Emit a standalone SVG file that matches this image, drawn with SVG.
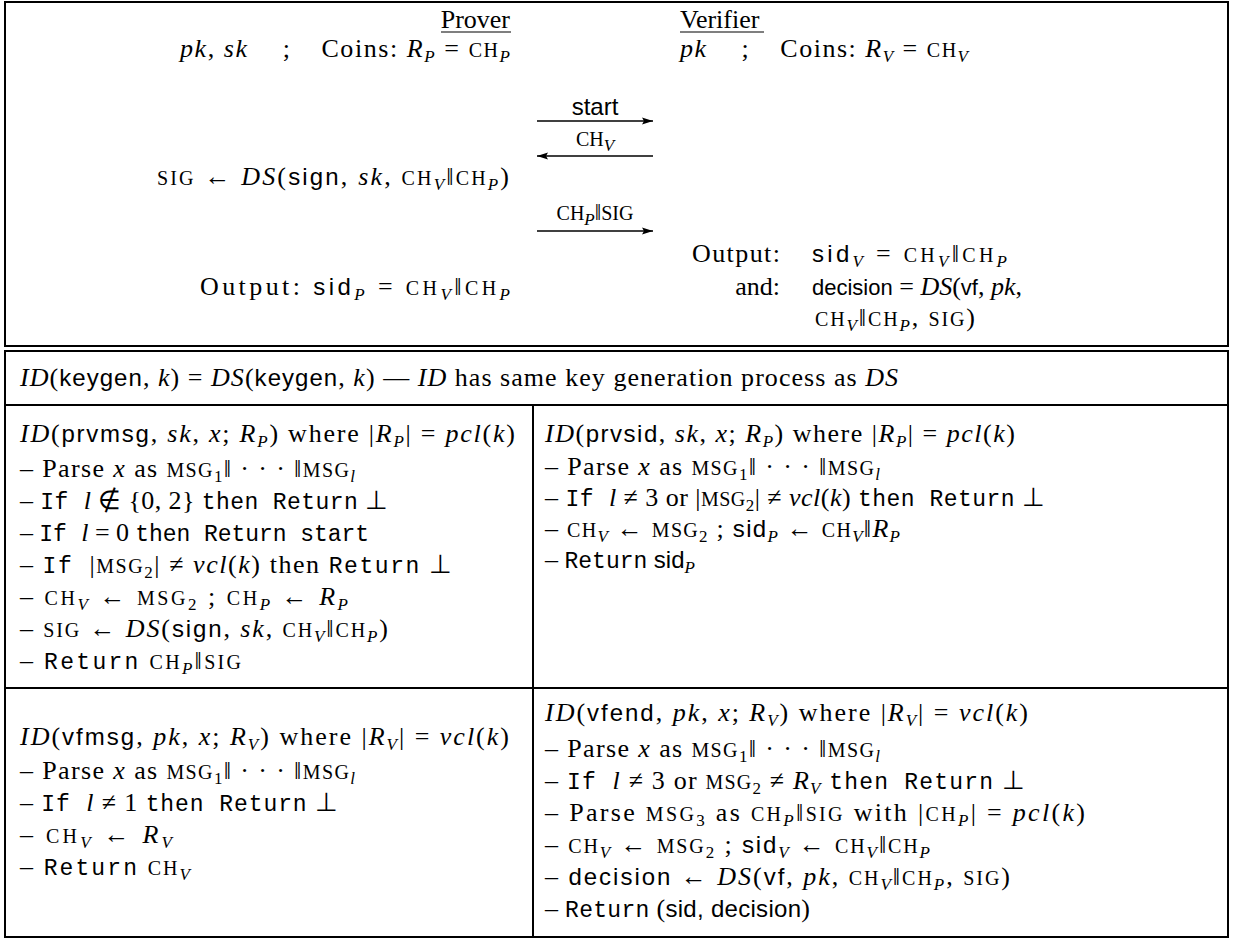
<svg xmlns="http://www.w3.org/2000/svg" width="1233" height="939" viewBox="0 0 1233 939">
<defs>
<style>
.t{font-family:"Liberation Serif",serif;font-size:26px;fill:#000}
.i{font-style:italic}
.k{font-style:italic}
.s{font-family:"Liberation Sans",sans-serif;font-size:24px}
.s2{font-family:"Liberation Sans",sans-serif;font-size:22px}
.m{font-family:"Liberation Mono",monospace;font-size:23px}
.c{font-size:20px}
.b{font-size:17px}
.bi{font-size:17px;font-style:italic}
.fr{fill:none;stroke:#000;stroke-width:2}
.ln{stroke:#000;stroke-width:2}
.ul{stroke:#000;stroke-width:1.2}
.ar{stroke:#000;stroke-width:1.5;fill:none;marker-end:url(#ah)}
.lb{font-family:"Liberation Serif",serif;font-size:23px;fill:#000;text-anchor:middle}
</style>
<marker id="ah" markerUnits="userSpaceOnUse" markerWidth="12" markerHeight="8" refX="11" refY="4" orient="auto">
<path d="M0,0.5 L11,4 L0,7.5 L2,4 Z" fill="#000"/>
</marker>
</defs>
<rect width="1233" height="939" fill="#fff"/>
<g id="frame">
<rect class="fr" x="5" y="2" width="1223" height="344"/>
<rect class="fr" x="5" y="351" width="1223" height="586"/>
<line class="ln" x1="5" y1="405" x2="1228" y2="405"/>
<line class="ln" x1="533" y1="405" x2="533" y2="937"/>
<line class="ln" x1="5" y1="688" x2="1228" y2="688"/>
</g>
<g id="prover">
<text class="t" x="510" y="28" text-anchor="end">Prover</text>
<line class="ul" x1="441" y1="32" x2="511" y2="32"/>
<text class="t" x="510" y="57" text-anchor="end" textLength="330" lengthAdjust="spacing"><tspan class="i">pk</tspan>, <tspan class="i">sk</tspan><tspan dx="34">;</tspan><tspan dx="30">Coins: </tspan><tspan class="i">R</tspan><tspan class="bi" dy="5">P</tspan><tspan dy="-5"> = </tspan><tspan class="c">CH</tspan><tspan class="bi" dy="5">P</tspan></text>
<text class="t" x="509" y="185" text-anchor="end" textLength="352" lengthAdjust="spacing"><tspan class="c">SIG</tspan> ← <tspan class="k">DS</tspan>(<tspan class="s">sign</tspan>, <tspan class="i">sk</tspan>, <tspan class="c">CH</tspan><tspan class="bi" dy="5">V</tspan><tspan dy="-5">‖</tspan><tspan class="c">CH</tspan><tspan class="bi" dy="5">P</tspan><tspan dy="-5">)</tspan></text>
<text class="t" x="510" y="295" text-anchor="end" textLength="310" lengthAdjust="spacing">Output: <tspan class="s">sid</tspan><tspan class="bi" dy="5">P</tspan><tspan dy="-5"> = </tspan><tspan class="c">CH</tspan><tspan class="bi" dy="5">V</tspan><tspan dy="-5">‖</tspan><tspan class="c">CH</tspan><tspan class="bi" dy="5">P</tspan></text>
</g>
<g id="verifier">
<text class="t" x="680" y="28">Verifier</text>
<line class="ul" x1="680" y1="32" x2="764" y2="32"/>
<text class="t" x="680" y="57" textLength="288" lengthAdjust="spacing"><tspan class="i">pk</tspan><tspan dx="34">;</tspan><tspan dx="30">Coins: </tspan><tspan class="i">R</tspan><tspan class="bi" dy="5">V</tspan><tspan dy="-5"> = </tspan><tspan class="c">CH</tspan><tspan class="bi" dy="5">V</tspan></text>
<text class="t" x="780" y="262" text-anchor="end" textLength="88" lengthAdjust="spacing">Output:</text>
<text class="t" x="812" y="262" textLength="195" lengthAdjust="spacing"><tspan class="s">sid</tspan><tspan class="bi" dy="5">V</tspan><tspan dy="-5"> = </tspan><tspan class="c">CH</tspan><tspan class="bi" dy="5">V</tspan><tspan dy="-5">‖</tspan><tspan class="c">CH</tspan><tspan class="bi" dy="5">P</tspan></text>
<text class="t" x="780" y="295" text-anchor="end">and:</text>
<text class="t" x="812" y="295"><tspan class="s2">decision</tspan> = <tspan class="k">DS</tspan>(<tspan class="s2">vf</tspan>, <tspan class="i">pk</tspan>,</text>
<text class="t" x="815" y="326" textLength="160" lengthAdjust="spacing"><tspan class="c">CH</tspan><tspan class="bi" dy="5">V</tspan><tspan dy="-5">‖</tspan><tspan class="c">CH</tspan><tspan class="bi" dy="5">P</tspan><tspan dy="-5">, </tspan><tspan class="c">SIG</tspan>)</text>
</g>
<g id="connectors">
<line class="ar" x1="537" y1="121" x2="653" y2="121"/>
<line class="ar" x1="653" y1="156" x2="537" y2="156"/>
<line class="ar" x1="537" y1="231" x2="653" y2="231"/>
<text class="lb" x="595" y="115"><tspan class="s">start</tspan></text>
<text class="lb" x="595" y="146"><tspan class="c">CH</tspan><tspan class="bi" dy="5">V</tspan></text>
<text class="lb" x="595" y="220"><tspan class="c">CH</tspan><tspan class="bi" dy="5">P</tspan><tspan dy="-5">‖</tspan><tspan class="c">SIG</tspan></text>
</g>
<g id="header">
<text class="t" x="20" y="386" textLength="878" lengthAdjust="spacing"><tspan class="k">ID</tspan>(<tspan class="s">keygen</tspan>, <tspan class="i">k</tspan>) = <tspan class="k">DS</tspan>(<tspan class="s">keygen</tspan>, <tspan class="i">k</tspan>) — <tspan class="k">ID</tspan> has same key generation process as <tspan class="k">DS</tspan></text>
</g>
<g id="prvmsg">
<text class="t" x="20" y="442" textLength="495" lengthAdjust="spacing"><tspan class="k">ID</tspan>(<tspan class="s">prvmsg</tspan>, <tspan class="i">sk</tspan>, <tspan class="i">x</tspan>; <tspan class="i">R</tspan><tspan class="bi" dy="5">P</tspan><tspan dy="-5">) where |</tspan><tspan class="i">R</tspan><tspan class="bi" dy="5">P</tspan><tspan dy="-5">| = </tspan><tspan class="i">pcl</tspan>(<tspan class="i">k</tspan>)</text>
<text class="t" x="20" y="477" textLength="335" lengthAdjust="spacing">– Parse <tspan class="i">x</tspan> as <tspan class="c">MSG</tspan><tspan class="b" dy="5">1</tspan><tspan dy="-5">‖ · · · ‖</tspan><tspan class="c">MSG</tspan><tspan class="bi" dy="5">l</tspan></text>
<text class="t" x="20" y="509" textLength="368" lengthAdjust="spacing">– <tspan class="m">If</tspan> <tspan class="i" dx="8">l</tspan> ∉ {0, 2} <tspan class="m">then Return</tspan> ⊥</text>
<text class="t" x="20" y="541" textLength="349" lengthAdjust="spacing">– <tspan class="m">If</tspan> <tspan class="i" dx="8">l</tspan> = 0 <tspan class="m">then Return start</tspan></text>
<text class="t" x="20" y="573" textLength="432" lengthAdjust="spacing">– <tspan class="m">If</tspan> <tspan dx="8">|</tspan><tspan class="c">MSG</tspan><tspan class="b" dy="5">2</tspan><tspan dy="-5">| ≠ </tspan><tspan class="i">vcl</tspan>(<tspan class="i">k</tspan>) then <tspan class="m">Return</tspan> ⊥</text>
<text class="t" x="20" y="605" textLength="328" lengthAdjust="spacing">– <tspan class="c">CH</tspan><tspan class="bi" dy="5">V</tspan><tspan dy="-5"> ← </tspan><tspan class="c">MSG</tspan><tspan class="b" dy="5">2</tspan><tspan dy="-5"> ; </tspan><tspan class="c">CH</tspan><tspan class="bi" dy="5">P</tspan><tspan dy="-5"> ← </tspan><tspan class="i">R</tspan><tspan class="bi" dy="5">P</tspan></text>
<text class="t" x="20" y="637" textLength="368" lengthAdjust="spacing">– <tspan class="c">SIG</tspan> ← <tspan class="k">DS</tspan>(<tspan class="s">sign</tspan>, <tspan class="i">sk</tspan>, <tspan class="c">CH</tspan><tspan class="bi" dy="5">V</tspan><tspan dy="-5">‖</tspan><tspan class="c">CH</tspan><tspan class="bi" dy="5">P</tspan><tspan dy="-5">)</tspan></text>
<text class="t" x="20" y="669" textLength="221" lengthAdjust="spacing">– <tspan class="m">Return</tspan> <tspan class="c">CH</tspan><tspan class="bi" dy="5">P</tspan><tspan dy="-5">‖</tspan><tspan class="c">SIG</tspan></text>
</g>
<g id="prvsid">
<text class="t" x="545" y="442" textLength="470" lengthAdjust="spacing"><tspan class="k">ID</tspan>(<tspan class="s">prvsid</tspan>, <tspan class="i">sk</tspan>, <tspan class="i">x</tspan>; <tspan class="i">R</tspan><tspan class="bi" dy="5">P</tspan><tspan dy="-5">) where |</tspan><tspan class="i">R</tspan><tspan class="bi" dy="5">P</tspan><tspan dy="-5">| = </tspan><tspan class="i">pcl</tspan>(<tspan class="i">k</tspan>)</text>
<text class="t" x="545" y="475" textLength="335" lengthAdjust="spacing">– Parse <tspan class="i">x</tspan> as <tspan class="c">MSG</tspan><tspan class="b" dy="5">1</tspan><tspan dy="-5">‖ · · · ‖</tspan><tspan class="c">MSG</tspan><tspan class="bi" dy="5">l</tspan></text>
<text class="t" x="545" y="506" textLength="500" lengthAdjust="spacing">– <tspan class="m">If</tspan> <tspan class="i" dx="8">l</tspan> ≠ 3 or |<tspan class="c">MSG</tspan><tspan class="b" dy="5">2</tspan><tspan dy="-5">| ≠ </tspan><tspan class="i">vcl</tspan>(<tspan class="i">k</tspan>) <tspan class="m">then Return</tspan> ⊥</text>
<text class="t" x="545" y="537" textLength="355" lengthAdjust="spacing">– <tspan class="c">CH</tspan><tspan class="bi" dy="5">V</tspan><tspan dy="-5"> ← </tspan><tspan class="c">MSG</tspan><tspan class="b" dy="5">2</tspan><tspan dy="-5"> ; </tspan><tspan class="s">sid</tspan><tspan class="bi" dy="5">P</tspan><tspan dy="-5"> ← </tspan><tspan class="c">CH</tspan><tspan class="bi" dy="5">V</tspan><tspan dy="-5">‖</tspan><tspan class="i">R</tspan><tspan class="bi" dy="5">P</tspan></text>
<text class="t" x="545" y="568">– <tspan class="m">Return</tspan> <tspan class="s">sid</tspan><tspan class="bi" dy="5">P</tspan></text>
</g>
<g id="vfmsg">
<text class="t" x="20" y="745" textLength="489" lengthAdjust="spacing"><tspan class="k">ID</tspan>(<tspan class="s">vfmsg</tspan>, <tspan class="i">pk</tspan>, <tspan class="i">x</tspan>; <tspan class="i">R</tspan><tspan class="bi" dy="5">V</tspan><tspan dy="-5">) where |</tspan><tspan class="i">R</tspan><tspan class="bi" dy="5">V</tspan><tspan dy="-5">| = </tspan><tspan class="i">vcl</tspan>(<tspan class="i">k</tspan>)</text>
<text class="t" x="20" y="779" textLength="335" lengthAdjust="spacing">– Parse <tspan class="i">x</tspan> as <tspan class="c">MSG</tspan><tspan class="b" dy="5">1</tspan><tspan dy="-5">‖ · · · ‖</tspan><tspan class="c">MSG</tspan><tspan class="bi" dy="5">l</tspan></text>
<text class="t" x="20" y="811" textLength="318" lengthAdjust="spacing">– <tspan class="m">If</tspan> <tspan class="i" dx="8">l</tspan> ≠ 1 <tspan class="m">then Return</tspan> ⊥</text>
<text class="t" x="20" y="843" textLength="152" lengthAdjust="spacing">– <tspan class="c">CH</tspan><tspan class="bi" dy="5">V</tspan><tspan dy="-5"> ← </tspan><tspan class="i">R</tspan><tspan class="bi" dy="5">V</tspan></text>
<text class="t" x="20" y="875" textLength="170" lengthAdjust="spacing">– <tspan class="m">Return</tspan> <tspan class="c">CH</tspan><tspan class="bi" dy="5">V</tspan></text>
</g>
<g id="vfend">
<text class="t" x="545" y="721" textLength="483" lengthAdjust="spacing"><tspan class="k">ID</tspan>(<tspan class="s">vfend</tspan>, <tspan class="i">pk</tspan>, <tspan class="i">x</tspan>; <tspan class="i">R</tspan><tspan class="bi" dy="5">V</tspan><tspan dy="-5">) where |</tspan><tspan class="i">R</tspan><tspan class="bi" dy="5">V</tspan><tspan dy="-5">| = </tspan><tspan class="i">vcl</tspan>(<tspan class="i">k</tspan>)</text>
<text class="t" x="545" y="757" textLength="335" lengthAdjust="spacing">– Parse <tspan class="i">x</tspan> as <tspan class="c">MSG</tspan><tspan class="b" dy="5">1</tspan><tspan dy="-5">‖ · · · ‖</tspan><tspan class="c">MSG</tspan><tspan class="bi" dy="5">l</tspan></text>
<text class="t" x="545" y="789" textLength="480" lengthAdjust="spacing">– <tspan class="m">If</tspan> <tspan class="i" dx="8">l</tspan> ≠ 3 or <tspan class="c">MSG</tspan><tspan class="b" dy="5">2</tspan><tspan dy="-5"> ≠ </tspan><tspan class="i">R</tspan><tspan class="bi" dy="5">V</tspan> <tspan class="m" dy="-5">then Return</tspan> ⊥</text>
<text class="t" x="545" y="821" textLength="540" lengthAdjust="spacing">– Parse <tspan class="c">MSG</tspan><tspan class="b" dy="5">3</tspan><tspan dy="-5"> as </tspan><tspan class="c">CH</tspan><tspan class="bi" dy="5">P</tspan><tspan dy="-5">‖</tspan><tspan class="c">SIG</tspan> with |<tspan class="c">CH</tspan><tspan class="bi" dy="5">P</tspan><tspan dy="-5">| = </tspan><tspan class="i">pcl</tspan>(<tspan class="i">k</tspan>)</text>
<text class="t" x="545" y="853" textLength="385" lengthAdjust="spacing">– <tspan class="c">CH</tspan><tspan class="bi" dy="5">V</tspan><tspan dy="-5"> ← </tspan><tspan class="c">MSG</tspan><tspan class="b" dy="5">2</tspan><tspan dy="-5"> ; </tspan><tspan class="s">sid</tspan><tspan class="bi" dy="5">V</tspan><tspan dy="-5"> ← </tspan><tspan class="c">CH</tspan><tspan class="bi" dy="5">V</tspan><tspan dy="-5">‖</tspan><tspan class="c">CH</tspan><tspan class="bi" dy="5">P</tspan></text>
<text class="t" x="545" y="885" textLength="465" lengthAdjust="spacing">– <tspan class="s">decision</tspan> ← <tspan class="k">DS</tspan>(<tspan class="s">vf</tspan>, <tspan class="i">pk</tspan>, <tspan class="c">CH</tspan><tspan class="bi" dy="5">V</tspan><tspan dy="-5">‖</tspan><tspan class="c">CH</tspan><tspan class="bi" dy="5">P</tspan><tspan dy="-5">, </tspan><tspan class="c">SIG</tspan>)</text>
<text class="t" x="545" y="917" textLength="265" lengthAdjust="spacing">– <tspan class="m">Return</tspan> (<tspan class="s">sid, decision</tspan>)</text>
</g>
</svg>
